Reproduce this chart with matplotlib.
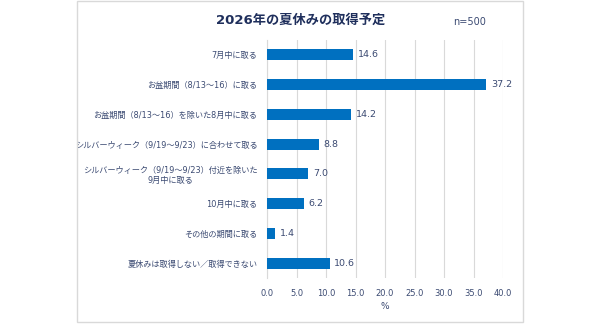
import numpy as np
import matplotlib.pyplot as plt
from matplotlib.patches import Rectangle

plt.rcParams['font.family'] = ['DejaVu Sans', 'Noto Sans CJK JP']

categories = [
    "7月中に取る",
    "お盆期間（8/13～16）に取る",
    "お盆期間（8/13～16）を除いた8月中に取る",
    "シルバーウィーク（9/19～9/23）に合わせて取る",
    "シルバーウィーク（9/19～9/23）付近を除いた\n9月中に取る",
    "10月中に取る",
    "その他の期間に取る",
    "夏休みは取得しない／取得できない",
]
values = [14.6, 37.2, 14.2, 8.8, 7.0, 6.2, 1.4, 10.6]
xticks = [0, 5, 10, 15, 20, 25, 30, 35, 40]

text_col = "#3B4A72"
bar_col = "#0070C0"
grid_col = "#D9D9D9"

fig = plt.figure(figsize=(6, 3.25), dpi=100)
# outer frame
fig.patches.append(Rectangle((77 / 600, 1 - 322 / 325), 446 / 600, 321 / 325,
                             transform=fig.transFigure, fill=False,
                             edgecolor=grid_col, linewidth=1))

ax = fig.add_axes([267 / 600, 1 - 278 / 325, 236 / 600, 238 / 325])
y = np.arange(len(categories))
ax.barh(y, values, height=0.37, color=bar_col, zorder=3)
for yi, v in zip(y, values):
    ax.text(v + 0.8, yi, f"{v:.1f}", va="center", ha="left",
            fontsize=6.8, color=text_col)

ax.set_ylim(len(categories) - 0.5, -0.5)
ax.set_xlim(0, 40)
ax.set_xticks(xticks)
ax.set_xticklabels([f"{t:.1f}" for t in xticks], fontsize=6, color=text_col)
ax.set_yticks(y)
ax.set_yticklabels(categories, fontsize=5.9, color=text_col, multialignment="center")
ax.tick_params(axis="both", length=0)
ax.tick_params(axis="y", pad=7)
ax.tick_params(axis="x", pad=8)
ax.grid(axis="x", color=grid_col, linewidth=0.8, zorder=0)
for s in ["top", "right", "bottom"]:
    ax.spines[s].set_visible(False)
ax.spines["left"].set_color(grid_col)
ax.set_xlabel("%", fontsize=6.5, color=text_col, labelpad=3)

fig.text(301 / 600, 1 - 20 / 325, "2026年の夏休みの取得予定", ha="center", va="center",
         fontsize=9.5, fontweight="bold", color="#1F2F5C")
fig.text(470 / 600, 1 - 22 / 325, "n=500", ha="center", va="center",
         fontsize=7, color=text_col)

fig.savefig("out.png", dpi=100)
